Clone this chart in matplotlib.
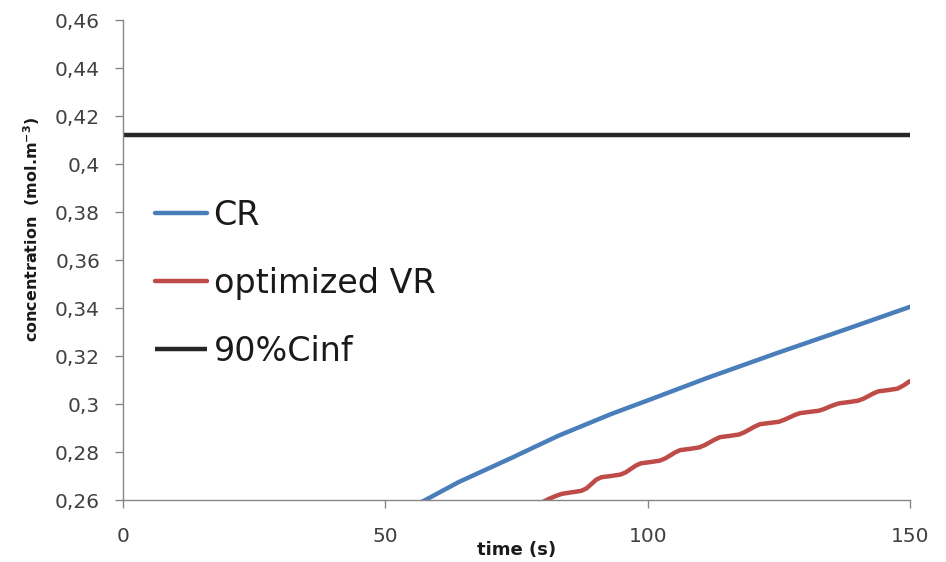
import matplotlib
matplotlib.use('Agg')
import matplotlib.pyplot as plt
from matplotlib.ticker import FuncFormatter, MultipleLocator

# ── Data ─────────────────────────────────────────────────────────────────────
cr_t = [50, 57.2, 64.0, 74.0, 83.0, 93.0, 100.0, 111.5, 124.6, 137.6, 150.0]
cr_c = [0.2525, 0.2595, 0.2675, 0.2775, 0.2868, 0.2958, 0.3015, 0.3110, 0.3212, 0.3310, 0.3405]

vr_t = [79.5, 81.0, 82.5, 83.7,
        85.5, 87.3, 88.3, 89.25, 90.2, 91.2,
        93.0, 94.8, 95.8, 96.75, 97.7, 98.7,
        100.5, 102.3, 103.3, 104.25, 105.2, 106.2,
        108.0, 109.8, 110.8, 111.8, 112.8, 113.8,
        115.6, 117.4, 118.4, 119.4, 120.4, 121.4,
        123.2, 125.0, 126.0, 127.0, 128.0, 129.0,
        130.8, 132.6, 133.6, 134.55, 135.5, 136.5,
        138.3, 140.1, 141.1, 142.05, 143.0, 144.0,
        145.8, 147.6, 148.8, 150.0]
vr_c = [0.2586, 0.2603, 0.2617, 0.2626,
        0.2632, 0.2638, 0.2648, 0.2666, 0.2685, 0.2695,
        0.2700, 0.2706, 0.2715, 0.2729, 0.2743, 0.2753,
        0.2758, 0.2764, 0.2773, 0.2785, 0.2798, 0.2808,
        0.2813, 0.2819, 0.2828, 0.2840, 0.2852, 0.2862,
        0.2867, 0.2873, 0.2882, 0.2894, 0.2906, 0.2916,
        0.2921, 0.2926, 0.2934, 0.2944, 0.2954, 0.2962,
        0.2967, 0.2972, 0.2979, 0.2988, 0.2996, 0.3003,
        0.3008, 0.3014, 0.3022, 0.3033, 0.3044, 0.3053,
        0.3058, 0.3064, 0.3078, 0.3096]

c90_t = [0, 150]
c90_c = [0.412, 0.412]

# ── Figure ───────────────────────────────────────────────────────────────────
fig = plt.figure(figsize=(9.46, 5.62), dpi=100)
ax = fig.add_axes([0.130, 0.1103, 0.832, 0.854])

ax.plot(cr_t, cr_c, color='#4A7EBB', lw=3.2, label='CR',
        solid_capstyle='round', solid_joinstyle='round')
ax.plot(vr_t, vr_c, color='#BE4B48', lw=3.2, label='optimized VR',
        solid_capstyle='round', solid_joinstyle='round')
ax.plot(c90_t, c90_c, color='#262626', lw=3.2, label='90%Cinf', solid_capstyle='butt')

ax.set_xlim(0, 150)
ax.set_ylim(0.26, 0.46)
ax.xaxis.set_major_locator(MultipleLocator(50))
ax.yaxis.set_major_locator(MultipleLocator(0.02))
ax.yaxis.set_major_formatter(FuncFormatter(lambda v, p: f'{v:.2f}'.rstrip('0').replace('.', ',')))

for s in ['top', 'right']:
    ax.spines[s].set_visible(False)
for s in ['left', 'bottom']:
    ax.spines[s].set_color('#868686')
    ax.spines[s].set_linewidth(1.0)

ax.tick_params(direction='out', length=5.5, width=1.0, color='#868686',
               labelsize=14.5, labelcolor='#404040')
ax.tick_params(axis='y', pad=11)
ax.tick_params(axis='x', pad=14)

ax.set_xlabel('time (s)', fontweight='bold', fontsize=13, color='#1a1a1a')
ax.xaxis.label.set_va('center')
ax.xaxis.set_label_coords(0.5, -0.104)
ax.set_ylabel('concentration  (mol.m$^{\\mathregular{-3}}$)',
              fontweight='bold', fontsize=11.5, color='#1a1a1a')
ax.yaxis.set_label_coords(-0.103, 0.565)

leg = ax.legend(loc='center left', bbox_to_anchor=(0.041, 0.452), frameon=False,
                borderpad=0, borderaxespad=0, handlelength=1.55, handletextpad=0.2,
                labelspacing=1.05, prop={'size': 24})
for t in leg.get_texts():
    t.set_color('#1a1a1a')

fig.savefig('out.png', dpi=100)
